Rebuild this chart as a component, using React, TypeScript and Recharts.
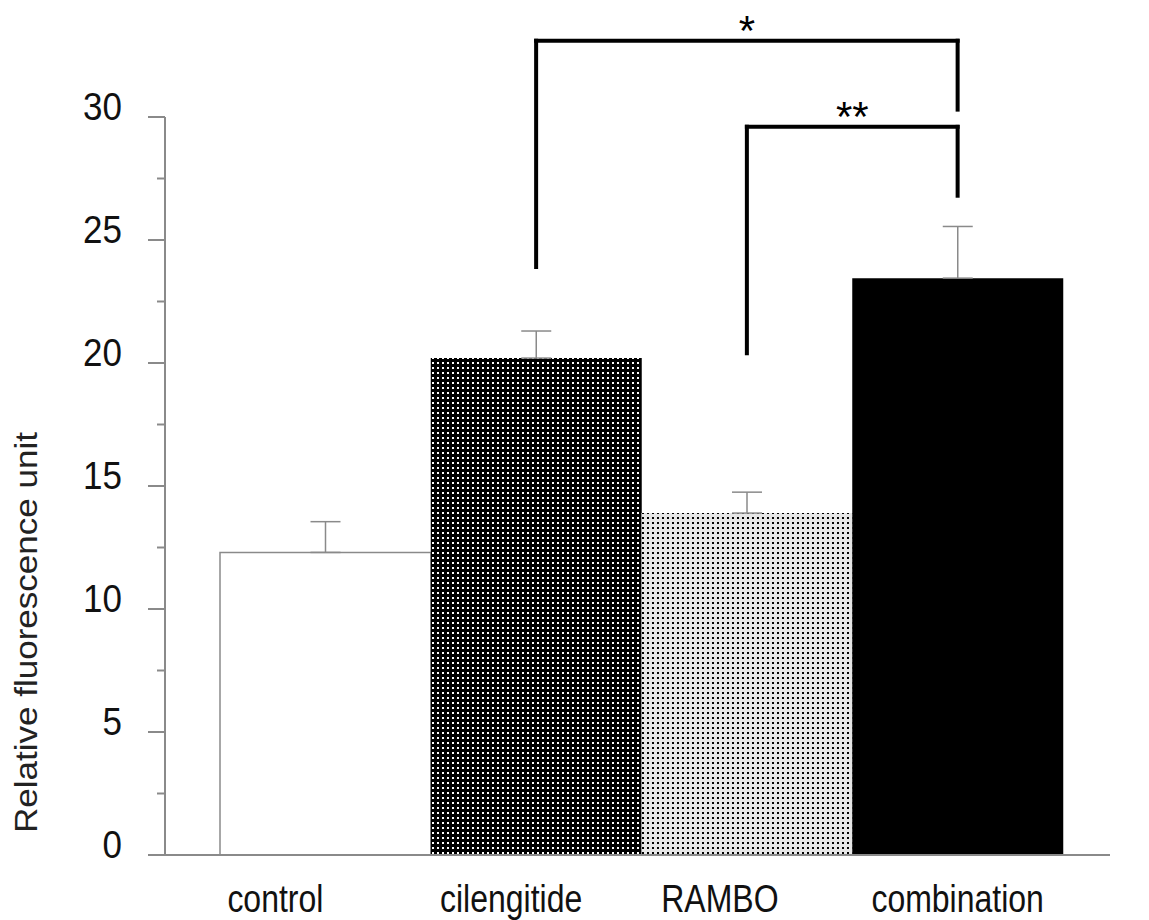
import React from "react";
import { BarChart, Bar, XAxis, YAxis, Cell, ErrorBar, ReferenceLine } from "recharts";

const categories = ["control", "cilengitide", "RAMBO", "combination"];
const means = [12.3, 20.2, 13.9, 23.45];
const sems = [1.25, 1.1, 0.85, 2.1];
const yTicks = [0, 2.5, 5, 7.5, 10, 12.5, 15, 17.5, 20, 22.5, 25, 27.5, 30];
const fills = ["#ffffff", "url(#dotsDark)", "url(#dotsLight)", "#000000"];

// significance brackets: left leg bottom, top, right leg bottom (data units)
const brackets = [
  { from: "cilengitide", to: "combination", fromBottom: 23.9, top: 33.1, toBottom: 30.3, mark: "*" },
  { from: "RAMBO", to: "combination", fromBottom: 20.4, top: 29.6, toBottom: 26.8, mark: "**" },
];

const data = categories.map((name, i) => ({ name, mean: means[i], err: [0, sems[i]] }));

const AXIS = "#8a8a8a";
// the category labels in the original sit a bit left of the bar centres
const labelShift = [-50, -25, -27, 0];

function YTick(props: any) {
  const { x, y, payload } = props;
  const major = payload.value % 5 === 0;
  return (
    <g>
      <line x1={x - (major ? 17 : 8)} x2={x} y1={y} y2={y} stroke={AXIS} strokeWidth={2} />
      {major && (
        <text transform={`translate(${x - 43},${y + 3}) scale(1,1.1)`} textAnchor="end" fontSize={35} fill="#111">
          {payload.value}
        </text>
      )}
    </g>
  );
}

function XTick(props: any) {
  const { x, y, payload, index } = props;
  return (
    <text
      transform={`translate(${x + (labelShift[index] || 0)},${y + 57}) scale(1,1.2)`}
      textAnchor="middle"
      fontSize={32}
      fill="#111"
    >
      {payload.value}
    </text>
  );
}

function YLabel(props: any) {
  const { viewBox } = props;
  const bx = viewBox.x - 28;
  const by = viewBox.y + viewBox.height - 22;
  return (
    <text transform={`translate(${bx},${by}) rotate(-90) scale(1.13,1)`} textAnchor="start" fontSize={31} fill="#222">
      Relative fluorescence unit
    </text>
  );
}

export default function App() {
  return (
    <div style={{ position: "absolute", left: 0, top: 0, background: "#fff", fontFamily: "'Liberation Sans', Arial, sans-serif" }}>
      <BarChart
        width={1149}
        height={920}
        data={data}
        margin={{ top: 117, right: 39, bottom: 15, left: 65 }}
        barCategoryGap={0}
      >
        <defs>
          <pattern id="dotsDark" width={5} height={5} patternUnits="userSpaceOnUse">
            <rect width={5} height={5} fill="#000" />
            <rect x={2} y={2} width={2} height={2} fill="#fff" />
          </pattern>
          <pattern id="dotsLight" width={5} height={5} patternUnits="userSpaceOnUse">
            <rect width={5} height={5} fill="#e6e6e6" />
            <rect x={2} y={2} width={2} height={2} fill="#000" />
          </pattern>
        </defs>
        <XAxis
          dataKey="name"
          height={50}
          padding={{ left: 55, right: 47 }}
          axisLine={{ stroke: AXIS, strokeWidth: 2 }}
          tickLine={false}
          tickSize={0}
          tickMargin={0}
          tick={(p: any) => <XTick {...p} />}
          interval={0}
        />
        <YAxis
          width={100}
          domain={[0, 30]}
          ticks={yTicks}
          interval={0}
          axisLine={{ stroke: AXIS, strokeWidth: 2 }}
          tickLine={false}
          tickSize={0}
          tickMargin={0}
          tick={(p: any) => <YTick {...p} />}
          label={{ content: (p: any) => <YLabel {...p} /> }}
        />
        <Bar dataKey="mean" isAnimationActive={false}>
          {data.map((d, i) => (
            <Cell
              key={d.name}
              fill={fills[i]}
              stroke={i === 0 ? AXIS : "none"}
              strokeWidth={i === 0 ? 1.5 : 0}
            />
          ))}
          <ErrorBar dataKey="err" width={15} stroke={AXIS} strokeWidth={1.5} direction="y" isAnimationActive={false} />
        </Bar>
        {brackets.map((b) => (
          <React.Fragment key={b.mark}>
            <ReferenceLine
              segment={[{ x: b.from, y: b.fromBottom }, { x: b.from, y: b.top }]}
              stroke="#000"
              strokeWidth={4}
              strokeLinecap="square"
              ifOverflow="visible"
            />
            <ReferenceLine
              segment={[{ x: b.from, y: b.top }, { x: b.to, y: b.top }]}
              stroke="#000"
              strokeWidth={4}
              strokeLinecap="square"
              ifOverflow="visible"
              label={{ value: b.mark, position: "top", fontSize: 42, fill: "#000", offset: -4 }}
            />
            <ReferenceLine
              segment={[{ x: b.to, y: b.top }, { x: b.to, y: b.toBottom }]}
              stroke="#000"
              strokeWidth={4}
              strokeLinecap="square"
              ifOverflow="visible"
            />
          </React.Fragment>
        ))}
      </BarChart>
    </div>
  );
}
